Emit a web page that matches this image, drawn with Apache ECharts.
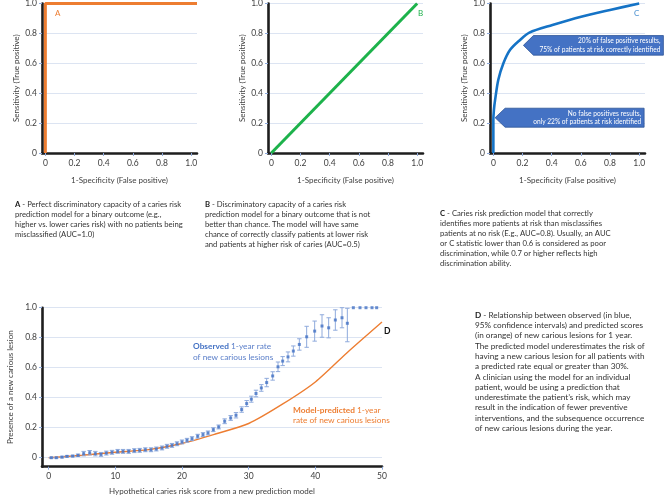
<!DOCTYPE html>
<html><head><meta charset="utf-8">
<script src="https://cdn.jsdelivr.net/npm/echarts@6/dist/echarts.min.js"></script>
<style>html,body{margin:0;padding:0;background:#fff}#c{width:669px;height:500px}</style>
</head><body><div id="c"></div><script>
// ---- data ----
const rocTicks = [0, 0.2, 0.4, 0.6, 0.8, 1.0];
const scoreTicks = [0, 10, 20, 30, 40, 50];
const rocAx = [0, 0, 1.04];
const rocAy = [0, 1, 1];
const rocBx = [0, 1];
const rocBy = [0, 1];
const rocCx = [0, 0, 0.004, 0.012, 0.034, 0.069, 0.115, 0.183, 0.247, 0.405, 0.602, 0.80, 1.0];
const rocCy = [0, 0.22, 0.29, 0.355, 0.49, 0.60, 0.69, 0.756, 0.805, 0.856, 0.912, 0.957, 1.0];
const predX = [0, 5, 10, 15, 20, 25, 30, 35, 40, 45, 50];
const predY = [0, 0.016, 0.036, 0.054, 0.095, 0.158, 0.228, 0.355, 0.505, 0.71, 0.905];
const obsX = [0.40,1.15,2.00,2.75,3.60,4.40,5.25,6.15,7.00,7.85,8.65,9.50,10.35,11.15,12.00,12.85,13.65,14.50,15.35,16.15,17.00,17.75,18.50,19.25,20.00,20.75,21.50,22.35,23.15,23.90,24.70,25.50,26.40,27.30,28.10,28.95,29.70,30.40,31.10,31.90,32.70,33.60,34.40,35.10,35.90,36.70,37.60,38.70,39.90,41.00,42.00,43.00,44.00,44.80,45.70,46.70,47.60,48.50,49.20];
const obsY = [0.000,0.000,0.004,0.009,0.011,0.016,0.027,0.033,0.027,0.022,0.031,0.036,0.042,0.042,0.042,0.047,0.049,0.053,0.053,0.058,0.065,0.076,0.082,0.093,0.105,0.116,0.127,0.143,0.154,0.165,0.187,0.205,0.243,0.265,0.283,0.321,0.361,0.390,0.428,0.465,0.501,0.545,0.606,0.644,0.672,0.711,0.755,0.806,0.844,0.878,0.866,0.918,0.933,0.896,1.000,1.000,1.000,1.000,1.000];
const obsLow = [-0.003,-0.003,-0.001,0.004,0.006,0.008,0.012,0.018,0.012,0.009,0.018,0.023,0.029,0.029,0.029,0.034,0.036,0.040,0.040,0.045,0.052,0.063,0.069,0.080,0.092,0.103,0.114,0.130,0.141,0.152,0.174,0.192,0.227,0.249,0.265,0.303,0.341,0.370,0.406,0.443,0.473,0.517,0.574,0.614,0.639,0.677,0.717,0.736,0.777,0.803,0.799,0.850,0.866,0.773,null,null,null,null,null];
const obsHigh = [0.003,0.003,0.009,0.014,0.016,0.024,0.042,0.048,0.042,0.035,0.044,0.049,0.055,0.055,0.055,0.060,0.062,0.066,0.066,0.071,0.078,0.089,0.095,0.106,0.118,0.129,0.140,0.156,0.167,0.178,0.200,0.218,0.259,0.281,0.301,0.339,0.381,0.410,0.450,0.487,0.529,0.573,0.638,0.674,0.705,0.745,0.793,0.876,0.911,0.953,0.933,0.986,1.000,0.996,null,null,null,null,null];

const capA = ['{b|A} - Perfect discriminatory capacity of a caries risk','prediction model for a binary outcome (e.g.,','higher vs. lower caries risk) with no patients being','misclassified (AUC=1.0)'];
const capB = ['{b|B} - Discriminatory capacity of a caries risk','prediction model for a binary outcome that is not','better than chance. The model will have same','chance of correctly classify patients at lower risk','and patients at higher risk of caries (AUC=0.5)'];
const capC = ['{b|C} - Caries risk prediction model that correctly','identifies more patients at risk than misclassifies','patients at no risk (E.g., AUC=0.8). Usually, an AUC','or C statistic lower than 0.6 is considered as poor','discrimination, while 0.7 or higher reflects high','discrimination ability.'];
const capD = ['{b|D} - Relationship between observed (in blue,','95% confidence intervals) and predicted scores','(in orange) of new carious lesions for 1 year.','The predicted model underestimates the risk of','having a new carious lesion for all patients with','a predicted rate equal or greater than 30%.','A clinician using the model for an individual','patient, would be using a prediction that','underestimate the patient\u2019s risk, which may','result in the indication of fewer preventive','interventions, and the subsequence occurrence','of new carious lesions during the year.'];

// ---- chart ----
const FONT = 'Lato';
const chart = echarts.init(document.getElementById('c'), null, {renderer: 'canvas'});
const zip = (a, b) => a.map((v, i) => [v, b[i]]);
const fmt = v => v === 0 ? '0' : v.toFixed(1);
const axisLine = {show: true, onZero: false, lineStyle: {color: '#1e1e1e', width: 2.6}};
const tick = vals => ({show: true, length: 3, customValues: vals, lineStyle: {color: '#8FAADC', width: 1}});
const grid = (l, t, w, h) => ({left: l, top: t, width: w, height: h, containLabel: false, outerBoundsMode: 'none'});
const nameStyle = {color: '#404040', fontSize: 8, fontFamily: FONT};
const labStyle = {color: '#404040', fontSize: 8.5, fontFamily: FONT};

function rocX(idx) {
  return {type: 'value', gridIndex: idx, min: -0.023, max: 1.04,
    axisLine, axisTick: tick(rocTicks),
    axisLabel: Object.assign({customValues: rocTicks, formatter: fmt, margin: 6}, labStyle),
    splitLine: {show: false},
    name: '1-Specificity (False positive)', nameLocation: 'middle', nameGap: 23, nameTextStyle: nameStyle};
}
function rocY(idx) {
  return {type: 'value', gridIndex: idx, min: 0, max: 1, interval: 0.2,
    axisLine, axisTick: {show: true, length: 3, lineStyle: {color: '#8FAADC'}},
    axisLabel: Object.assign({formatter: fmt, margin: 5}, labStyle),
    splitLine: {show: true, lineStyle: {color: '#DCE4F2', width: 1}},
    name: 'Sensitivity (True positive)', nameLocation: 'middle', nameGap: 22, nameRotate: 90, nameTextStyle: nameStyle};
}

const errData = [];
obsX.forEach((x, i) => { if (obsLow[i] !== null) errData.push([x, obsLow[i], obsHigh[i]]); });

const option = {
  animation: false,
  textStyle: {fontFamily: FONT},
  grid: [grid(42, 3.5, 155, 149.5), grid(268, 3.5, 155, 149.5), grid(490, 3.5, 155, 149.5), grid(42, 307.7, 340, 159)],
  xAxis: [rocX(0), rocX(1), rocX(2), {
    type: 'value', gridIndex: 3, min: -1, max: 50,
    axisLine, axisTick: tick(scoreTicks),
    axisLabel: Object.assign({customValues: scoreTicks, margin: 5}, labStyle),
    splitLine: {show: false},
    name: 'Hypothetical caries risk score from a new prediction model', nameLocation: 'middle', nameGap: 21, nameTextStyle: nameStyle
  }],
  yAxis: [rocY(0), rocY(1), rocY(2), {
    type: 'value', gridIndex: 3, min: -0.06, max: 1,
    axisLine, axisTick: tick(rocTicks),
    axisLabel: Object.assign({customValues: rocTicks, formatter: fmt, margin: 5}, labStyle),
    splitLine: {show: true, lineStyle: {color: '#DCE4F2', width: 1}},
    name: 'Presence of a new carious lesion', nameLocation: 'middle', nameGap: 25, nameRotate: 90, nameTextStyle: nameStyle
  }],
  series: [
    {type: 'line', xAxisIndex: 0, yAxisIndex: 0, data: zip(rocAx, rocAy), symbol: 'none', clip: false,
     lineStyle: {color: '#ED7D31', width: 3}},
    {type: 'line', xAxisIndex: 1, yAxisIndex: 1, data: zip(rocBx, rocBy), symbol: 'none', clip: false,
     lineStyle: {color: '#1DB24B', width: 3}},
    {type: 'line', xAxisIndex: 2, yAxisIndex: 2, data: zip(rocCx, rocCy), symbol: 'none', clip: false, smooth: 0.3,
     lineStyle: {color: '#1573C6', width: 2.6}},
    {type: 'line', xAxisIndex: 3, yAxisIndex: 3, data: zip(predX, predY), symbol: 'none', clip: false, smooth: 0.25,
     lineStyle: {color: '#ED7D31', width: 1.4}, z: 2},
    {type: 'custom', xAxisIndex: 3, yAxisIndex: 3, data: errData, encode: {x: 0, y: [1, 2]}, z: 3,
     renderItem: function (params, api) {
       const x = api.value(0);
       const p1 = api.coord([x, api.value(2)]);
       const p2 = api.coord([x, api.value(1)]);
       const w = 2.2;
       const st = {stroke: '#8FAADC', lineWidth: 1};
       return {type: 'group', children: [
         {type: 'line', shape: {x1: p1[0], y1: p1[1], x2: p2[0], y2: p2[1]}, style: st},
         {type: 'line', shape: {x1: p1[0] - w, y1: p1[1], x2: p1[0] + w, y2: p1[1]}, style: st},
         {type: 'line', shape: {x1: p2[0] - w, y1: p2[1], x2: p2[0] + w, y2: p2[1]}, style: st}
       ]};
     }},
    {type: 'scatter', xAxisIndex: 3, yAxisIndex: 3, data: zip(obsX, obsY), symbol: 'rect', symbolSize: 3, z: 4,
     itemStyle: {color: '#4472C4'}}
  ]
};
chart.setOption(option);

function txt(x, y, text, o) {
  return {type: 'text', x: x, y: y, z: 100, style: Object.assign({
    text: text, fontFamily: FONT, fontSize: 7.5, fill: '#333333',
    align: 'left', verticalAlign: 'top', textAlign: 'left', textVerticalAlign: 'top'}, o || {})};
}
function caption(x, y, lines, fs, lh) {
  return txt(x, y, lines.join('\n'), {fontSize: fs, lineHeight: lh, fill: '#333333',
    rich: {b: {fontWeight: 'bold', fontSize: fs, lineHeight: lh, fontFamily: FONT, fill: '#1a1a1a'}}});
}
function callout(gridIdx, tipData, bodyW, halfH, lines, fs) {
  const tip = chart.convertToPixel({gridIndex: gridIdx}, tipData);
  const l = tip[0] + 10, r = tip[0] + 10 + bodyW, t = tip[1] - halfH, b = tip[1] + halfH;
  return [
    {type: 'polygon', z: 90, shape: {points: [[tip[0], tip[1]], [l, t], [r, t], [r, b], [l, b]]},
     style: {fill: '#4472C4', stroke: '#2F5597', lineWidth: 0.8}},
    txt(r - 3, tip[1], lines.join('\n'), {fill: '#ffffff', fontSize: fs, lineHeight: 8.6,
      align: 'right', textAlign: 'right', verticalAlign: 'middle', textVerticalAlign: 'middle'})
  ];
}

const graphics = [
  txt(55, 9, 'A', {fill: '#ED7D31', fontSize: 8}),
  txt(418, 9, 'B', {fill: '#1DB24B', fontSize: 8}),
  txt(634, 9, 'C', {fill: '#4A90D0', fontSize: 8}),
  caption(15, 200, capA, 7.7, 10),
  caption(205, 200, capB, 7.7, 10),
  caption(440, 209, capC, 7.7, 10),
  caption(475, 310, capD, 8.2, 10.3),
  txt(193, 341.5, '{ob|Observed} 1-year rate\nof new carious lesions', {fill: '#5B7FC9', fontSize: 8.3, lineHeight: 10.6,
    rich: {ob: {fontWeight: 'bold', fill: '#4472C4', fontSize: 8.3, lineHeight: 10.6, fontFamily: FONT}}}),
  txt(293, 405, '{ob|Model-predicted} 1-year\nrate of new carious lesions', {fill: '#ED7D31', fontSize: 8.3, lineHeight: 10,
    rich: {ob: {fontWeight: 'bold', fill: '#ED7D31', fontSize: 8.3, lineHeight: 10, fontFamily: FONT}}}),
  txt(384, 327, 'D', {fill: '#111', fontSize: 8.5, fontWeight: 'bold'})
].concat(
  callout(2, [0.206, 0.72], 130, 9.8, ['20% of false positive results,', '75% of patients at risk correctly identified'], 6.6),
  callout(2, [0.012, 0.236], 139, 9.5, ['No false positives results,', 'only 22% of patients at risk identified'], 6.6)
);
chart.setOption({graphic: {elements: graphics}});
</script></body></html>
